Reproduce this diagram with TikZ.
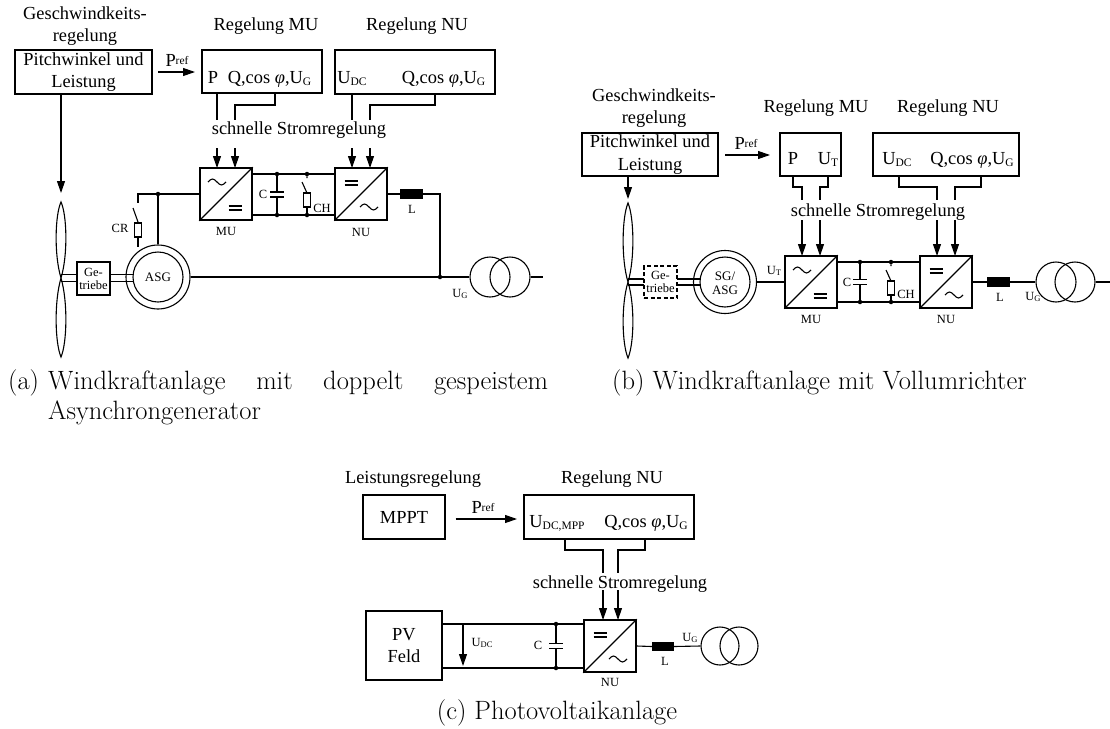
\documentclass[tikz,border=0pt]{standalone}
\usepackage{fontspec}
\newfontfamily\diag{Liberation Serif}
\usetikzlibrary{arrows.meta,calc}

% font sizes
\newcommand\fbig{\diag\fontsize{18.4}{22.5}\selectfont}
\newcommand\fsm{\diag\fontsize{12.5}{13.5}\selectfont}
\newcommand\fgear{\diag\fontsize{12.5}{13}\selectfont}
\newcommand\fcap{\fontsize{26.5}{30}\selectfont}
% indices
\newcommand\lo[1]{\raisebox{-2.5pt}{\fontsize{11.5}{12}\selectfont #1}}
\newcommand\los[1]{\raisebox{-1.5pt}{\fontsize{8.5}{9}\selectfont #1}}
\newcommand\refidx{\raisebox{1.5pt}{\fontsize{11.5}{12}\selectfont ref}}
\newcommand\phisym{{\itshape φ}}

\tikzset{
  wire/.style={line width=1.1pt},
  frame/.style={draw, line width=1.3pt, inner sep=0pt},
  lbl/.style={font=\fbig, inner sep=0pt},
  slbl/.style={font=\fsm, inner sep=0pt},
  arr/.style={wire, -{Triangle[length=12pt,width=8pt]}},
  junction/.style={circle, fill, inner sep=0pt, minimum size=4.5pt},
  conv/.style={frame, line width=1.5pt, minimum width=52pt, minimum height=52pt},
  choke/.style={fill, inner sep=0pt, minimum width=23pt, minimum height=10pt},
  trafo/.style={circle, draw, line width=1.1pt, inner sep=0pt, minimum size=40pt},
  plate/.style={line width=1.5pt},
}

% converter symbols, placed relative to the converter centre
\newcommand\tildeat[3]{\draw[wire] ($(#1.center)+(#2,#3)+(-9,0)$) sin ++(4.5,-3) cos ++(4.5,3) sin ++(4.5,3) cos ++(4.5,-3);}
\newcommand\eqat[3]{\draw[wire] ($(#1.center)+(#2,#3)+(-6.5,-2)$) -- ++(13,0) ($(#1.center)+(#2,#3)+(-6.5,2)$) -- ++(13,0);}

\begin{document}
\begin{tikzpicture}[x=1pt,y=-1pt]
\fill[white] (0,0) rectangle (1110,728);
\useasboundingbox (0,0) rectangle (1110,728);

%% ================= (a) DFIG wind turbine =================
\node[lbl, align=center] (aSpeed) at (85,26) {Geschwindkeits-\\regelung};
\node[frame, minimum width=137pt, minimum height=44pt, align=center, font=\fbig] (aPitch) at (83.5,72) {Pitchwinkel und\\Leistung};
\node[lbl] (aRegMU) at (266,26) {Regelung MU};
\node[lbl] (aRegNU) at (417,26) {Regelung NU};

\node[frame, minimum width=120pt, minimum height=43pt] (aCtlMU) at (262,71.5) {};
\node[lbl, anchor=base] (aCtlMUp) at (213,83) {P};
\node[lbl, anchor=base] (aCtlMUq) at (269.5,83) {Q,cos \phisym,U\lo{G}};
\node[frame, minimum width=160pt, minimum height=44pt] (aCtlNU) at (415,72) {};
\node[lbl, anchor=base] (aCtlNUu) at (352,83) {U\lo{DC}};
\node[lbl, anchor=base] (aCtlNUq) at (443.5,83) {Q,cos \phisym,U\lo{G}};

\draw[arr] (158,72) -- (195,72);
\node[lbl, anchor=base] (aPref) at (177,66) {P\refidx};

\draw[wire] (217,93) -- (217,120);
\draw[wire] (275,93) -- (275,105) -- (235,105) -- (235,120);
\draw[wire] (352,94) -- (352,120);
\draw[wire] (435,94) -- (435,105) -- (370,105) -- (370,120);
\node[lbl, anchor=base] (aFast) at (299,134) {schnelle Stromregelung};

\node[conv] (aMU) at (226,194) {};
\node[conv] (aNU) at (361,194) {};
\draw[wire] (aMU.south west) -- (aMU.north east) (aNU.south west) -- (aNU.north east);
\tildeat{aMU}{-9}{-12}
\eqat{aMU}{9}{14}
\eqat{aNU}{-10}{-11}
\tildeat{aNU}{8}{13}
\node[slbl] (aMUl) at (226,231) {MU};
\node[slbl] (aNUl) at (361,232) {NU};

\draw[arr] (217,148) -- (217,168);
\draw[arr] (235,148) -- (235,168);
\draw[arr] (352,148) -- (352,168);
\draw[arr] (370,148) -- (370,168);

% DC link with capacitor and chopper
\draw[wire] (252,174) -- (335,174) (252,215) -- (335,215);
\node[junction] (aC1) at (277,174) {};
\node[junction] (aC2) at (277,215) {};
\draw[wire] (aC1) -- (277,192) (aC2) -- (277,197);
\draw[plate] (270,192) -- (284,192) (270,197) -- (284,197);
\node[slbl] (aCl) at (263,194) {C};
\node[junction] (aH1) at (307,174) {};
\node[junction] (aH2) at (307,215) {};
\draw[wire] (aH1) -- (307,178) (302,182) -- (307,193);
\draw[wire] (303.5,193) rectangle (310.5,207);
\draw[wire] (307,207) -- (aH2);
\node[slbl] (aHl) at (322,208) {CH};

% grid side
\node[choke] (aL) at (411.5,194) {};
\node[slbl] (aLl) at (412,209) {L};
\node[junction] (aGrid) at (440,277) {};
\draw[wire] (aNU.east) -- (aL.west) (aL.east) -- (440,194) -- (aGrid);
\node[trafo] (aT1) at (490,277) {};
\node[trafo] (aT2) at (510,277) {};
\coordinate (aOut) at (543,277);
\draw[wire] (aT2.east) -- (aOut);
\node[slbl] (aUG) at (460,294) {U\los{G}};

% generator, gearbox, rotor
\node[circle, draw, line width=1.1pt, inner sep=0pt, minimum size=64pt] (aASG) at (158,277) {};
\draw[wire] (aASG.center) circle (25pt);
\node[font=\diag\fontsize{13}{14}\selectfont, inner sep=0pt] (aASGl) at (158,277) {ASG};
\draw[wire] (aASG.east) -- (aT1.west);
\node[junction] (aRot) at (158,194) {};
\draw[wire] (aMU.west) -- (138,194) -- (138,203);
\draw[wire] (aRot) -- (aASG.north);
\draw[wire] (133,208) -- (138,222);
\draw[wire] (134.5,223) rectangle (141.5,237);
\draw[wire] (138,237) -- (138,247);
\node[slbl] (aCRl) at (120,228) {CR};

\node[frame, line width=1.1pt, minimum width=33pt, minimum height=33pt, align=center, font=\fgear] (aGear) at (93.5,278.5) {Ge-\\triebe};
\draw[wire] (61,274.5) -- (77,274.5) (61,281.5) -- (77,281.5);
\draw[wire] (110,274.5) -- (133,274.5) (110,281.5) -- (133,281.5);
\coordinate (aHub) at (61,278);
\draw[wire] (aHub) .. controls (68,255) and (67,215) .. (61,202) .. controls (55,215) and (54,255) .. (aHub);
\draw[wire] (aHub) .. controls (68,302) and (67,343) .. (61,357) .. controls (55,343) and (54,302) .. (aHub);
\draw[arr] (aPitch.south -| aHub) -- (61,193);

\node[font=\fcap, inner sep=0pt, anchor=base west] (aCap0) at (8,389) {(a)};
\node[font=\fcap, inner sep=0pt, anchor=base west] (aCap1) at (48,389) {\makebox[500pt][s]{Windkraftanlage mit doppelt gespeistem}};
\node[font=\fcap, inner sep=0pt, anchor=base west] (aCap2) at (48,419) {Asynchrongenerator};

%% ================= (b) full converter wind turbine =================
\node[lbl, align=center] (bSpeed) at (654,108) {Geschwindkeits-\\regelung};
\node[frame, minimum width=136pt, minimum height=43pt, align=center, font=\fbig] (bPitch) at (650,154.5) {Pitchwinkel und\\Leistung};
\node[lbl] (bRegMU) at (816,108) {Regelung MU};
\node[lbl] (bRegNU) at (948,108) {Regelung NU};

\node[frame, minimum width=61pt, minimum height=43pt] (bCtlMU) at (810.5,154.5) {};
\node[lbl, anchor=base] (bCtlMUp) at (793,164) {P};
\node[lbl, anchor=base] (bCtlMUu) at (828,164) {U\lo{T}};
\node[frame, minimum width=146pt, minimum height=43pt] (bCtlNU) at (946,154.5) {};
\node[lbl, anchor=base] (bCtlNUu) at (897,164) {U\lo{DC}};
\node[lbl, anchor=base] (bCtlNUq) at (972,164) {Q,cos \phisym,U\lo{G}};

\draw[arr] (725,155) -- (770,155);
\node[lbl, anchor=base] (bPref) at (746,149) {P\refidx};

\draw[wire] (793,176) -- (793,187) -- (802,187) -- (802,200);
\draw[wire] (828,176) -- (828,187) -- (820,187) -- (820,200);
\draw[wire] (899,176) -- (899,187) -- (937,187) -- (937,200);
\draw[wire] (981,176) -- (981,187) -- (955,187) -- (955,200);
\node[lbl, anchor=base] (bFast) at (878,216) {schnelle Stromregelung};

\node[conv] (bMU) at (811,282) {};
\node[conv] (bNU) at (946,282) {};
\draw[wire] (bMU.south west) -- (bMU.north east) (bNU.south west) -- (bNU.north east);
\tildeat{bMU}{-9}{-12}
\eqat{bMU}{9}{14}
\eqat{bNU}{-10}{-11}
\tildeat{bNU}{8}{13}
\node[slbl] (bMUl) at (811,319) {MU};
\node[slbl] (bNUl) at (946,319) {NU};

\draw[arr] (802,220) -- (802,256);
\draw[arr] (820,220) -- (820,256);
\draw[arr] (937,220) -- (937,256);
\draw[arr] (955,220) -- (955,256);

\draw[wire] (837,262) -- (920,262) (837,302) -- (920,302);
\node[junction] (bC1) at (860,262) {};
\node[junction] (bC2) at (860,302) {};
\draw[wire] (bC1) -- (860,279.5) (bC2) -- (860,284.5);
\draw[plate] (853,279.5) -- (867,279.5) (853,284.5) -- (867,284.5);
\node[slbl] (bCl) at (847,282) {C};
\node[junction] (bH1) at (891,262) {};
\node[junction] (bH2) at (891,302) {};
\draw[wire] (bH1) -- (891,266) (886,270) -- (891,281);
\draw[wire] (887.5,281) rectangle (894.5,295);
\draw[wire] (891,295) -- (bH2);
\node[slbl] (bHl) at (906,294) {CH};

\node[choke] (bL) at (998.5,282) {};
\node[slbl] (bLl) at (1000,297) {L};
\node[trafo] (bT1) at (1056,282) {};
\node[trafo] (bT2) at (1075,282) {};
\coordinate (bOut) at (1110,282);
\draw[wire] (bNU.east) -- (bL.west) (bL.east) -- (bT1.west) (bT2.east) -- (bOut);
\node[slbl] (bUG) at (1033,297) {U\los{G}};

\node[circle, draw, line width=1.1pt, inner sep=0pt, minimum size=63pt] (bSG) at (725,282) {};
\draw[wire] (bSG.center) circle (25pt);
\node[font=\diag\fontsize{13}{14}\selectfont, inner sep=0pt, align=center] (bSGl) at (725,283) {SG/\\ASG};
\draw[wire] (bSG.east) -- (bMU.west);
\node[slbl] (bUT) at (774,271) {U\los{T}};

\node[draw, dash pattern=on 4pt off 2.5pt, line width=1.1pt, inner sep=0pt, minimum width=33pt, minimum height=32pt, align=center, font=\fgear] (bGear) at (660.5,282) {Ge-\\triebe};
\draw[wire] (628,279) -- (644,279) (628,285) -- (644,285);
\draw[wire] (677,279) -- (700,279) (677,285) -- (700,285);
\coordinate (bHub) at (628,282);
\draw[wire] (bHub) .. controls (635,259) and (634,217) .. (628,203) .. controls (622,217) and (621,259) .. (bHub);
\draw[wire] (bHub) .. controls (635,305) and (634,344) .. (628,358) .. controls (622,344) and (621,305) .. (bHub);
\draw[arr] (bPitch.south -| bHub) -- (628,199);

\node[font=\fcap, inner sep=0pt, anchor=base west] (bCap) at (612,389) {(b) Windkraftanlage mit Vollumrichter};

%% ================= (c) photovoltaic system =================
\node[lbl] (cPowCtl) at (413,479) {Leistungsregelung};
\node[lbl] (cRegNU) at (612,479) {Regelung NU};
\node[frame, minimum width=82pt, minimum height=44pt, font=\fbig] (cMPPT) at (404,517) {MPPT};
\node[frame, minimum width=170pt, minimum height=44pt] (cCtlNU) at (609,517) {};
\node[lbl, anchor=base] (cCtlNUu) at (557,527) {U\lo{DC,MPP}};
\node[lbl, anchor=base] (cCtlNUq) at (646,527) {Q,cos \phisym,U\lo{G}};
\draw[arr] (cMPPT.east |- 0,519) ++(10,0) -- (517,519);
\node[lbl, anchor=base] (cPref) at (483,513) {P\refidx};

\draw[wire] (565,539) -- (565,550) -- (603,550) -- (603,573);
\draw[wire] (645,539) -- (645,550) -- (618,550) -- (618,573);
\node[lbl, anchor=base] (cFast) at (620,588) {schnelle Stromregelung};
\draw[arr] (603,590) -- (603,620);
\draw[arr] (618,590) -- (618,620);

\node[conv] (cNU) at (610,646) {};
\draw[wire] (cNU.south west) -- (cNU.north east);
\eqat{cNU}{-10}{-11}
\tildeat{cNU}{8}{13}
\node[slbl] (cNUl) at (610,682) {NU};

\node[frame, minimum width=76pt, minimum height=69pt, align=center, font=\fbig] (cPV) at (404,645.5) {PV\\Feld};
\draw[wire] (442,624) -- (584,624) (442,668) -- (584,668);
\draw[arr] (463,624) -- (463,666);
\node[slbl] (cUdc) at (482,643) {U\los{DC}};
\node[junction] (cC1) at (556,624) {};
\node[junction] (cC2) at (556,668) {};
\draw[wire] (cC1) -- (556,643.5) (cC2) -- (556,648.5);
\draw[plate] (549,643.5) -- (563,643.5) (549,648.5) -- (563,648.5);
\node[slbl] (cCl) at (538,645) {C};

\node[choke, minimum width=22pt, minimum height=9pt] (cL) at (663,646.5) {};
\node[slbl] (cLl) at (665,661) {L};
\node[trafo, minimum size=38pt] (cT1) at (720,646) {};
\node[trafo, minimum size=38pt] (cT2) at (739,646) {};
\draw[wire] (cNU.east) -- (cL.west) (cL.east) -- (cT1.west);
\node[slbl] (cUG) at (690,638) {U\los{G}};

\node[font=\fcap, inner sep=0pt, anchor=base] (cCap) at (557,719) {(c) Photovoltaikanlage};
\end{tikzpicture}
\end{document}
